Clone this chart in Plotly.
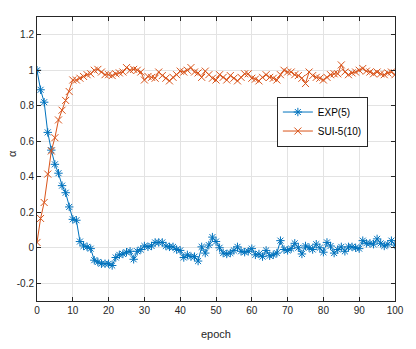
import plotly.graph_objects as go

# ── Data ─────────────────────────────────────────────────────────────────────
epochs = list(range(0, 101))

exp5 = [
    1.00, 0.89, 0.82, 0.65, 0.55, 0.47, 0.42, 0.35, 0.31, 0.23,
    0.16, 0.155, 0.035, 0.01, 0.005, -0.005, -0.07, -0.08, -0.09, -0.09,
    -0.09, -0.10, -0.055, -0.04, -0.035, -0.025, -0.02, -0.065, -0.02, -0.01,
    0.01, 0.005, 0.01, 0.03, 0.03, 0.03, 0.01, 0.005, 0.005, -0.01,
    -0.015, -0.055, -0.04, -0.05, -0.05, -0.075, 0.005, -0.03, 0.015, 0.06,
    0.035, 0.0, -0.03, -0.035, -0.03, -0.015, 0.005, -0.02, -0.025, -0.02,
    -0.005, -0.04, -0.035, -0.05, -0.015, -0.045, -0.04, -0.03, 0.04, -0.01,
    -0.015, -0.005, 0.025, 0.0, -0.035, 0.01, 0.0, -0.01, 0.02, 0.0,
    -0.025, 0.03, 0.01, -0.03, -0.01, 0.005, -0.02, 0.005, 0.005, 0.0,
    -0.005, 0.04, 0.025, 0.025, 0.02, 0.05, 0.025, 0.01, 0.02, 0.04,
    0.015,
]

sui5 = [
    0.03, 0.165, 0.255, 0.415, 0.545, 0.62, 0.72, 0.775, 0.83, 0.88,
    0.945, 0.945, 0.955, 0.965, 0.975, 0.98, 1.0, 1.005, 0.99, 0.975,
    0.975, 0.97, 0.98, 0.985, 0.99, 1.015, 1.0, 1.005, 1.0, 0.99,
    0.945, 0.965, 0.96, 0.955, 0.99, 0.97, 0.955, 0.94, 0.96, 0.975,
    0.995, 0.99, 1.0, 1.015, 0.99, 0.985, 0.96, 0.995, 0.975, 0.955,
    0.945, 0.975, 0.96, 0.945, 0.97, 0.955, 0.94, 0.96, 0.98, 0.98,
    0.955, 0.95, 0.94, 0.96, 0.975, 0.96, 0.955, 0.945, 0.975, 1.0,
    0.99, 0.99, 0.975, 0.97, 0.955, 0.925, 0.99, 0.97, 0.96, 0.955,
    0.945, 0.96, 0.975, 0.98, 0.98, 1.03, 0.99, 0.975, 0.985, 0.99,
    1.0, 1.01, 0.995, 0.99, 0.98, 0.99, 0.98, 0.975, 0.985, 0.99,
    0.975,
]

x_ticks = [0, 10, 20, 30, 40, 50, 60, 70, 80, 90, 100]
y_ticks = [-0.2, 0, 0.2, 0.4, 0.6, 0.8, 1, 1.2]
y_tick_text = ["-0.2", "0", "0.2", "0.4", "0.6", "0.8", "1", "1.2"]

# ── Style ────────────────────────────────────────────────────────────────────
C_BLUE = "#0072BD"
C_ORANGE = "#D95319"
C_AXIS = "#262626"
C_GRID = "#E3E3E3"
FONT = "Liberation Sans, Arial, sans-serif"

fig = go.Figure()

fig.add_trace(go.Scatter(
    x=epochs, y=exp5, name="EXP(5)",
    mode="lines+markers",
    line=dict(color=C_BLUE, width=1),
    marker=dict(symbol="asterisk-open", size=7, color=C_BLUE,
                line=dict(color=C_BLUE, width=1)),
))

fig.add_trace(go.Scatter(
    x=epochs, y=sui5, name="SUI-5(10)",
    mode="lines+markers",
    line=dict(color=C_ORANGE, width=1),
    marker=dict(symbol="x-thin-open", size=7, color=C_ORANGE,
                line=dict(color=C_ORANGE, width=1)),
))

axis_common = dict(
    showline=True, linecolor=C_AXIS, linewidth=1, mirror="allticks",
    ticks="inside", ticklen=4, tickcolor=C_AXIS,
    showgrid=True, gridcolor=C_GRID, gridwidth=1,
    zeroline=False, automargin=False,
    tickfont=dict(size=10, color=C_AXIS, family=FONT),
)

fig.update_layout(
    width=416, height=349,
    paper_bgcolor="white", plot_bgcolor="white",
    margin=dict(l=37, r=21, t=17, b=48, autoexpand=False),
    font=dict(family=FONT, color=C_AXIS, size=10),
    xaxis=dict(**axis_common, range=[0, 100], tickvals=x_ticks),
    yaxis=dict(**axis_common, range=[-0.3, 1.3], tickvals=y_ticks,
               ticktext=y_tick_text),
    legend=dict(
        x=0.67, y=0.72, xanchor="left", yanchor="top",
        bgcolor="white", bordercolor=C_AXIS, borderwidth=1,
        font=dict(size=10, color="black", family=FONT),
        tracegroupgap=0, itemwidth=30,
    ),
    showlegend=True,
)

# axis titles
fig.add_annotation(text="epoch", xref="paper", yref="paper", x=0.5, y=-0.088,
                   xanchor="center", yanchor="top", showarrow=False,
                   font=dict(size=11, color=C_AXIS))
fig.add_annotation(text="α", xref="paper", yref="paper", x=-0.068, y=0.52,
                   xanchor="center", yanchor="middle", showarrow=False,
                   textangle=-90, font=dict(size=11, color=C_AXIS))

# drop the default 8px body margin so the figure fills the window exactly
fig.write_html("out.html",
               config={"displayModeBar": False},
               post_script="document.body.style.margin='0';")
